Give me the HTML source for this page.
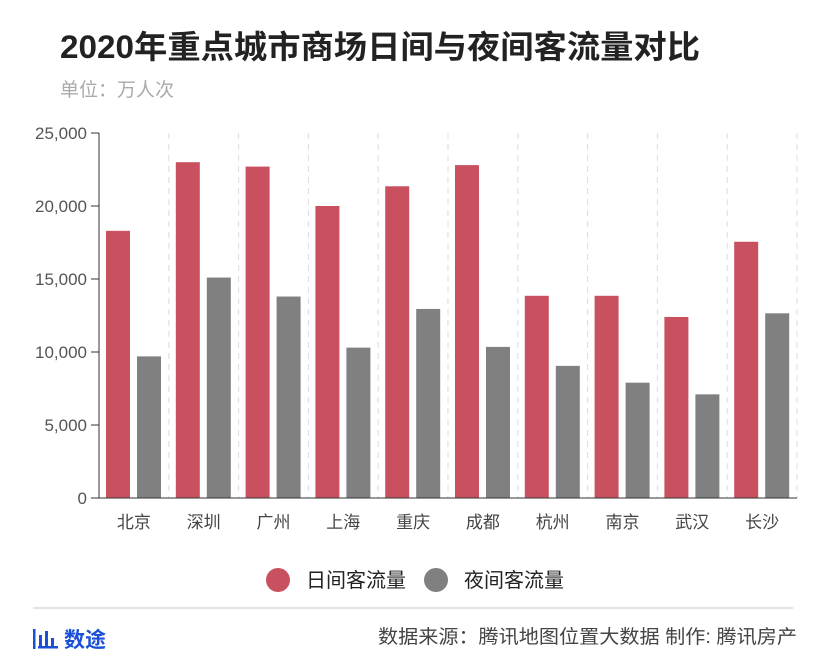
<!DOCTYPE html>
<html><head><meta charset="utf-8"><style>
body{margin:0;width:830px;height:664px;background:#fff;font-family:"Liberation Sans","Noto Sans CJK SC",sans-serif;overflow:hidden}
</style></head><body>
<svg width="830" height="664" xmlns="http://www.w3.org/2000/svg" style="font-family:'Liberation Sans','Noto Sans CJK SC',sans-serif">
<text x="60" y="58" font-size="32" font-weight="bold" fill="#222" textLength="640" lengthAdjust="spacingAndGlyphs">2020年重点城市商场日间与夜间客流量对比</text>
<text x="60" y="96" font-size="19" fill="#aaa">单位：万人次</text>
<g id="chart"></g>
<g>
<circle cx="278" cy="580" r="12" fill="#c9505f"/>
<text x="306" y="587" font-size="20" fill="#222">日间客流量</text>
<circle cx="436" cy="580" r="12" fill="#808080"/>
<text x="464" y="587" font-size="20" fill="#222">夜间客流量</text>
</g>
<line x1="33" y1="608" x2="793" y2="608" stroke="#e3e3e3" stroke-width="2"/>
<g fill="#1a50d8">
<rect x="33" y="629" width="2.5" height="20"/><rect x="39" y="635" width="3" height="11"/><rect x="45" y="631" width="3" height="15"/><rect x="51" y="638" width="3" height="8"/><rect x="38" y="646" width="20" height="2.5"/>
<text x="64" y="647" font-size="21" font-weight="bold">数途</text>
</g>
<text x="797" y="643" font-size="19" fill="#444" text-anchor="end" textLength="419" lengthAdjust="spacingAndGlyphs">数据来源：腾讯地图位置大数据  制作: 腾讯房产</text>
</svg>
<script>
const categories=["北京","深圳","广州","上海","重庆","成都","杭州","南京","武汉","长沙"];
const dayValues=[18300,23000,22700,20000,21350,22800,13850,13850,12400,17550];
const nightValues=[9700,15100,13800,10300,12950,10350,9050,7900,7100,12650];
const yTicks=[0,5000,10000,15000,20000,25000];
const yTickLabels=["0","5,000","10,000","15,000","20,000","25,000"];
const NS="http://www.w3.org/2000/svg";
const g=document.getElementById('chart');
const x0=99,x1=797,y0=498,y1=133,yMax=25000;
const bw=(x1-x0)/categories.length;
const yS=v=>y0-(v/yMax)*(y0-y1);
function mk(t,a){const e=document.createElementNS(NS,t);for(const k in a)e.setAttribute(k,a[k]);g.appendChild(e);return e;}
yTicks.forEach((t,i)=>{
 const y=yS(t);
 const tk=mk('line',{x1:x0-8,x2:x0,y1:y,y2:y,stroke:'#333','stroke-width':1});
 
 
 const tx=mk('text',{x:x0-12,y:y+6,'font-size':17,fill:'#555','text-anchor':'end'});
 tx.textContent=yTickLabels[i];
 
 
});
categories.forEach((c,i)=>{
 const bx=x0+i*bw;
 const sep=mk('line',{x1:bx+bw,x2:bx+bw,y1:y1,y2:y0,stroke:'#ddd','stroke-dasharray':'6,5'});
 
 
 const r=mk('rect',{x:bx+7,y:yS(dayValues[i]),width:24,height:y0-yS(dayValues[i]),fill:'#c9505f'});
 
 
 const n=mk('rect',{x:bx+38,y:yS(nightValues[i]),width:24,height:y0-yS(nightValues[i]),fill:'#808080'});
 
 
 const t=mk('text',{x:bx+bw/2,y:528,'font-size':17,fill:'#444','text-anchor':'middle'});
 t.textContent=c;
 
 
});
const ya=mk('line',{x1:x0,x2:x0,y1:y1,y2:y0,stroke:'#333'});


const xa=mk('line',{x1:x0,x2:x1,y1:y0,y2:y0,stroke:'#333'});


</script>
</body></html>
